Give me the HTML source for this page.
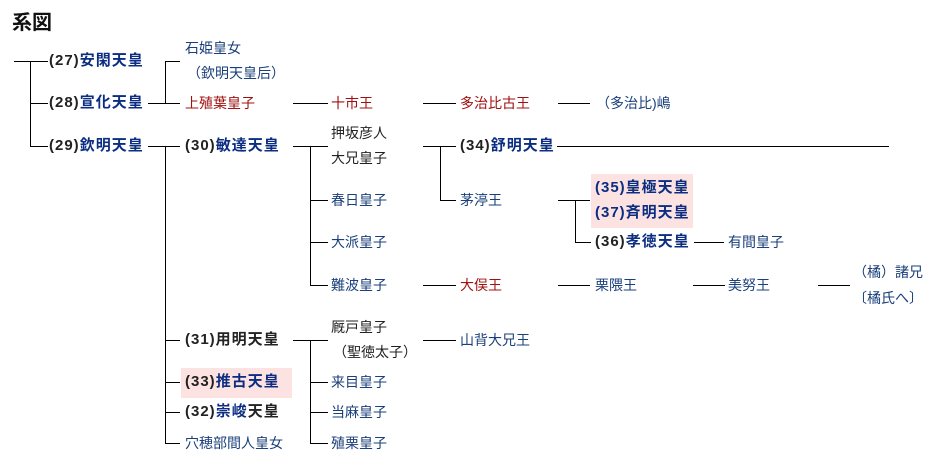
<!DOCTYPE html>
<html><head><meta charset="utf-8">
<style>
html,body{margin:0;padding:0;background:#fff;width:950px;height:470px;overflow:hidden;position:relative;font-family:"Liberation Sans","Noto Sans CJK JP",sans-serif;font-size:14px}
.t{position:absolute;white-space:nowrap;line-height:18px;transform:translateY(-50%);color:#1a3f7a}
.b{font-weight:bold;color:#222;font-size:15px;letter-spacing:1px}
.b span{color:#0b2e82}
.r{color:#a01010}
.k{color:#222}
.h{position:absolute;height:1px;background:#000}
.v{position:absolute;width:1px;background:#000}
.box{position:absolute;background:#fde2e2}
</style></head><body>
<div style="position:absolute;left:12px;top:6px;font-size:20px;font-weight:bold;color:#111">系図</div>

<div class="box" style="left:591px;top:174px;width:102px;height:54px"></div>
<div class="box" style="left:181px;top:368px;width:111px;height:30px"></div>

<div class="h" style="left:14px;top:61px;width:34px"></div>
<div class="v" style="left:30px;top:61px;height:86px"></div>
<div class="h" style="left:30px;top:103px;width:18px"></div>
<div class="h" style="left:30px;top:146px;width:18px"></div>
<div class="t b" style="left:49px;top:61px">(27)<span>安閑天皇</span></div>
<div class="t b" style="left:49px;top:103px">(28)<span>宣化天皇</span></div>
<div class="t b" style="left:49px;top:146px">(29)<span>欽明天皇</span></div>

<div class="h" style="left:148px;top:103px;width:32px"></div>
<div class="v" style="left:165px;top:61px;height:43px"></div>
<div class="h" style="left:165px;top:61px;width:15px"></div>
<div class="t" style="left:185px;top:48px">石姫皇女</div>
<div class="t" style="left:187px;top:73px">（欽明天皇后）</div>
<div class="t r" style="left:185px;top:103px">上殖葉皇子</div>
<div class="h" style="left:293px;top:103px;width:35px"></div>
<div class="t r" style="left:331px;top:103px">十市王</div>
<div class="h" style="left:423px;top:103px;width:33px"></div>
<div class="t r" style="left:460px;top:103px">多治比古王</div>
<div class="h" style="left:558px;top:103px;width:32px"></div>
<div class="t" style="left:596px;top:103px">（多治比)嶋</div>

<div class="h" style="left:148px;top:146px;width:32px"></div>
<div class="v" style="left:165px;top:146px;height:298px"></div>
<div class="h" style="left:165px;top:340px;width:15px"></div>
<div class="h" style="left:165px;top:382px;width:15px"></div>
<div class="h" style="left:165px;top:412px;width:15px"></div>
<div class="h" style="left:165px;top:443px;width:15px"></div>
<div class="t b" style="left:185px;top:146px">(30)<span>敏達天皇</span></div>
<div class="t b" style="left:185px;top:340px">(31)用明天皇</div>
<div class="t b" style="left:185px;top:382px">(33)<span>推古天皇</span></div>
<div class="t b" style="left:185px;top:412px">(32)<span>崇峻</span>天皇</div>
<div class="t" style="left:185px;top:443px">穴穂部間人皇女</div>

<div class="h" style="left:293px;top:146px;width:35px"></div>
<div class="v" style="left:310px;top:146px;height:140px"></div>
<div class="h" style="left:310px;top:200px;width:18px"></div>
<div class="h" style="left:310px;top:242px;width:18px"></div>
<div class="h" style="left:310px;top:285px;width:18px"></div>
<div class="t k" style="left:331px;top:133px">押坂彦人</div>
<div class="t k" style="left:331px;top:158px">大兄皇子</div>
<div class="t" style="left:331px;top:200px">春日皇子</div>
<div class="t" style="left:331px;top:242px">大派皇子</div>
<div class="t" style="left:331px;top:285px">難波皇子</div>

<div class="h" style="left:423px;top:146px;width:33px"></div>
<div class="v" style="left:440px;top:146px;height:55px"></div>
<div class="h" style="left:440px;top:200px;width:16px"></div>
<div class="t b" style="left:460px;top:146px">(34)<span>舒明天皇</span></div>
<div class="h" style="left:557px;top:146px;width:332px"></div>
<div class="t" style="left:460px;top:200px">茅渟王</div>
<div class="h" style="left:558px;top:200px;width:32px"></div>
<div class="v" style="left:575px;top:200px;height:43px"></div>
<div class="h" style="left:575px;top:242px;width:16px"></div>
<div class="t b" style="left:595px;top:188px"><span>(35)皇極天皇</span></div>
<div class="t b" style="left:595px;top:213px"><span>(37)斉明天皇</span></div>
<div class="t b" style="left:595px;top:242px">(36)<span>孝徳天皇</span></div>
<div class="h" style="left:694px;top:242px;width:30px"></div>
<div class="t" style="left:728px;top:242px">有間皇子</div>

<div class="h" style="left:423px;top:285px;width:33px"></div>
<div class="t r" style="left:460px;top:285px">大俣王</div>
<div class="h" style="left:558px;top:285px;width:32px"></div>
<div class="t" style="left:595px;top:285px">栗隈王</div>
<div class="h" style="left:693px;top:285px;width:32px"></div>
<div class="t" style="left:728px;top:285px">美努王</div>
<div class="h" style="left:818px;top:285px;width:32px"></div>
<div class="t" style="left:853px;top:272px">（橘）諸兄</div>
<div class="t" style="left:853px;top:298px">〔橘氏へ〕</div>

<div class="h" style="left:293px;top:340px;width:35px"></div>
<div class="v" style="left:310px;top:340px;height:104px"></div>
<div class="h" style="left:310px;top:382px;width:18px"></div>
<div class="h" style="left:310px;top:412px;width:18px"></div>
<div class="h" style="left:310px;top:443px;width:18px"></div>
<div class="t k" style="left:331px;top:327px">厩戸皇子</div>
<div class="t k" style="left:333px;top:352px">（聖徳太子）</div>
<div class="h" style="left:423px;top:340px;width:33px"></div>
<div class="t" style="left:460px;top:340px">山背大兄王</div>
<div class="t" style="left:331px;top:382px">来目皇子</div>
<div class="t" style="left:331px;top:412px">当麻皇子</div>
<div class="t" style="left:331px;top:443px">殖栗皇子</div>
</body></html>
